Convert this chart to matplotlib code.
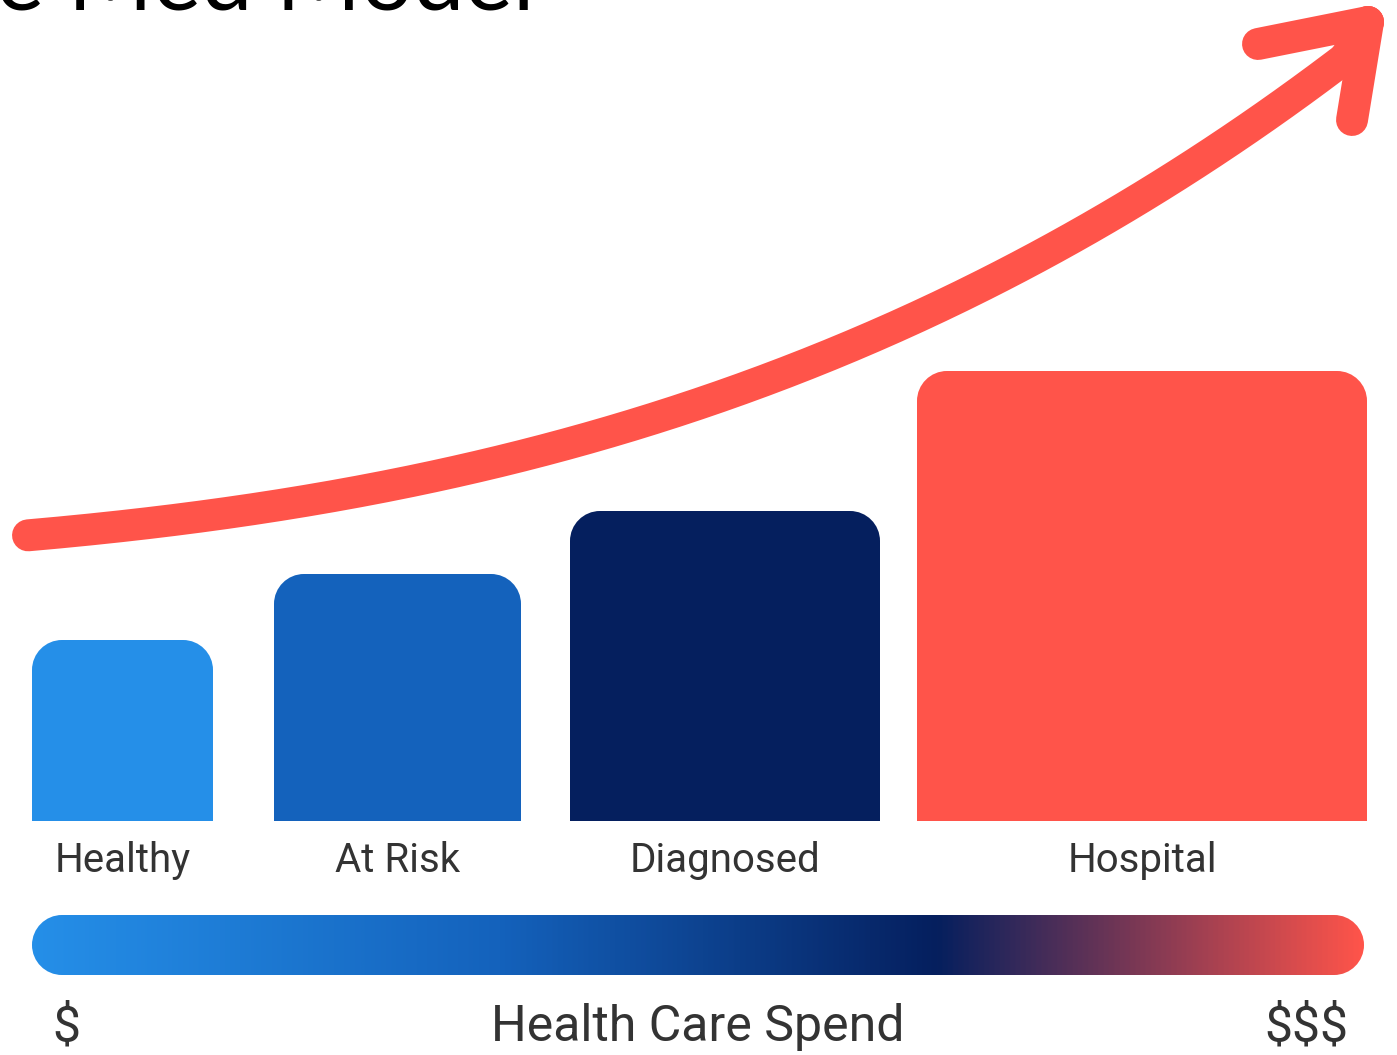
import numpy as np
import matplotlib.pyplot as plt
from matplotlib.path import Path
from matplotlib.patches import PathPatch
from matplotlib.colors import LinearSegmentedColormap

# data (canvas is laid out in pixel units, y grows downward)
stages = ['Healthy', 'At Risk', 'Diagnosed', 'Hospital']
bar_left = [32, 274, 570, 917]
bar_width = [181, 247, 310, 450]
bar_height = [181, 247, 310, 450]
bar_colors = ['#258FE8', '#1462BC', '#051F5E', '#FF544A']
baseline = 821

# spend curve control points
curve_x = [28, 250, 500, 750, 950, 1120, 1260, 1345]
curve_y = [535, 510, 462, 385, 300, 210, 125, 55]
head_tip = (1368, 22)
head_arms = [(1258, 44), (1352, 120)]

grad_stops = [(0.0, '#258FE8'), (0.35, '#1462BC'), (0.68, '#051F5E'), (1.0, '#FF544A')]

plt.rcParams['font.family'] = ['Roboto', 'DejaVu Sans']

fig = plt.figure(figsize=(13.97, 10.55), dpi=100)
ax = fig.add_axes([0, 0, 1, 1])
ax.set_xlim(0, 1397)
ax.set_ylim(1055, 0)
ax.axis('off')


def rounded(x, y_top, w, h, r_top, r_bot):
    # rounded rectangle, y grows downward
    y1 = y_top
    y0 = y_top + h
    k = 0.5523
    a, b = r_top, r_bot
    verts = [(x, y0 - b), (x, y1 + a),
             (x, y1 + a - k * a), (x + a - k * a, y1), (x + a, y1),
             (x + w - a, y1),
             (x + w - a + k * a, y1), (x + w, y1 + a - k * a), (x + w, y1 + a),
             (x + w, y0 - b),
             (x + w, y0 - b + k * b), (x + w - b + k * b, y0), (x + w - b, y0),
             (x + b, y0),
             (x + b - k * b, y0), (x, y0 - b + k * b), (x, y0 - b),
             (x, y0 - b)]
    codes = [Path.MOVETO, Path.LINETO,
             Path.CURVE4, Path.CURVE4, Path.CURVE4,
             Path.LINETO,
             Path.CURVE4, Path.CURVE4, Path.CURVE4,
             Path.LINETO,
             Path.CURVE4, Path.CURVE4, Path.CURVE4,
             Path.LINETO,
             Path.CURVE4, Path.CURVE4, Path.CURVE4,
             Path.CLOSEPOLY]
    return Path(verts, codes)


for i in range(len(stages)):
    p = rounded(bar_left[i], baseline - bar_height[i], bar_width[i], bar_height[i], 30, 0)
    ax.add_patch(PathPatch(p, facecolor=bar_colors[i], edgecolor='none', zorder=2))
    ax.text(bar_left[i] + bar_width[i] / 2, 861, stages[i], ha='center', va='center',
            fontsize=29, color='#333333')

# gradient spend bar
cmap = LinearSegmentedColormap.from_list('spend', grad_stops)
grad = np.linspace(0, 1, 512).reshape(1, -1)
im = ax.imshow(grad, cmap=cmap, aspect='auto', extent=(32, 1364, 975, 915), zorder=2)
clip = PathPatch(rounded(32, 915, 1332, 60, 30, 30), facecolor='none', edgecolor='none')
ax.add_patch(clip)
im.set_clip_path(clip)

ax.text(52, 1027, '$', ha='left', va='center', fontsize=36, color='#333333')
ax.text(698, 1027, 'Health Care Spend', ha='center', va='center', fontsize=36, color='#333333')
ax.text(1348, 1027, '$$$', ha='right', va='center', fontsize=36, color='#333333')

# curved arrow
cs = np.polyfit(curve_x, curve_y, 3)
cx = np.linspace(curve_x[0], curve_x[-1], 300)
cy = np.polyval(cs, cx)
cx = np.append(cx, head_tip[0])
cy = np.append(cy, head_tip[1])
ax.plot(cx, cy, color='#FF544A', lw=23, solid_capstyle='round', solid_joinstyle='round', zorder=3)
for a in head_arms:
    ax.plot([a[0], head_tip[0]], [a[1], head_tip[1]], color='#FF544A', lw=23,
            solid_capstyle='round', zorder=3)

ax.text(-4, 9, 'e Med Model', ha='left', va='baseline', fontsize=66,
        family=['Lato', 'DejaVu Sans'], color='black')

fig.savefig('out.png', dpi=100)
